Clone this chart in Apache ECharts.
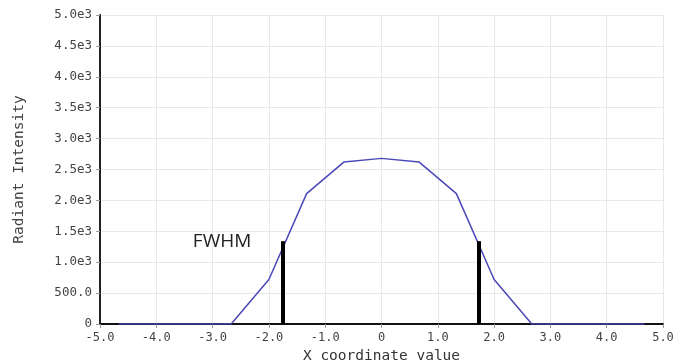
<!DOCTYPE html>
<html>
<head>
<meta charset="utf-8">
<script src="https://cdn.jsdelivr.net/npm/echarts@6/dist/echarts.min.js"></script>
<style>
  html, body { margin: 0; padding: 0; background: #fff; }
  #chart { width: 686px; height: 362px; }
</style>
</head>
<body>
<div id="chart"></div>
<script>
// profile samples (x step ~2/3)
const xValues = [-4.67, -4.0, -3.33, -2.67, -2.0, -1.33, -0.67, 0, 0.67, 1.33, 2.0, 2.67, 3.33, 4.0, 4.67];
const intensity = [0, 0, 0, 0, 720, 2110, 2620, 2680, 2620, 2110, 720, 0, 0, 0, 0];
// FWHM markers
const fwhmX = [-1.76, 1.72];
const fwhmHeight = 1340;
const fwhmLabelPos = [-3.44, 1340];

const mono = "'DejaVu Sans Mono', 'Liberation Mono', monospace";

const chart = echarts.init(document.getElementById("chart"));

const profile = xValues.map((x, i) => [x, intensity[i]]);

chart.setOption({
  animation: false,
  grid: { left: 100, right: 23, top: 15, bottom: 38, outerBoundsMode: "none" },
  xAxis: {
    type: "value",
    min: -5,
    max: 5,
    interval: 1,
    name: "X coordinate value",
    nameLocation: "middle",
    nameGap: 22,
    nameTextStyle: { fontFamily: mono, fontSize: 14.5, color: "#333" },
    axisLine: { onZero: false, lineStyle: { color: "#111", width: 2 } },
    axisTick: { show: true, length: 4, lineStyle: { color: "#999" } },
    axisLabel: {
      fontFamily: mono, fontSize: 12, color: "#444", margin: 8,
      formatter: v => v === 0 ? "0" : v.toFixed(1)
    },
    splitLine: { show: true, lineStyle: { color: "#e8e8e8", width: 1 } }
  },
  yAxis: {
    type: "value",
    min: 0,
    max: 5000,
    interval: 500,
    name: "Radiant Intensity",
    nameLocation: "middle",
    nameGap: 73,
    nameTextStyle: { fontFamily: mono, fontSize: 14.5, color: "#444" },
    axisLine: { show: true, onZero: false, lineStyle: { color: "#222", width: 2 } },
    axisTick: { show: true, length: 4, lineStyle: { color: "#999" } },
    axisLabel: {
      fontFamily: mono, fontSize: 12.5, color: "#444", margin: 8,
      formatter: v => v === 0 ? "0" : (v < 1000 ? v.toFixed(1) : (v / 1000).toFixed(1) + "e3")
    },
    splitLine: { show: true, lineStyle: { color: "#e8e8e8", width: 1 } }
  },
  series: [
    {
      name: "profile",
      type: "line",
      data: profile,
      showSymbol: false,
      lineStyle: { color: "#4a48b8", width: 1.5 },
      z: 3
    },
    {
      name: "fwhm",
      type: "line",
      data: [],
      z: 4,
      markLine: {
        silent: true,
        symbol: ["none", "none"],
        label: { show: false },
        lineStyle: { color: "#000", width: 4, type: "solid" },
        data: fwhmX.map(x => [{ coord: [x, 0] }, { coord: [x, fwhmHeight] }])
      },
      markPoint: {
        silent: true,
        symbol: "circle",
        symbolSize: 0,
        label: {
          show: true,
          position: "right",
          formatter: "FWHM",
          fontFamily: "'Open Sans', 'Liberation Sans', sans-serif",
          fontSize: 19,
          color: "#222"
        },
        data: [{ coord: fwhmLabelPos }]
      }
    }
  ]
});
</script>
</body>
</html>
